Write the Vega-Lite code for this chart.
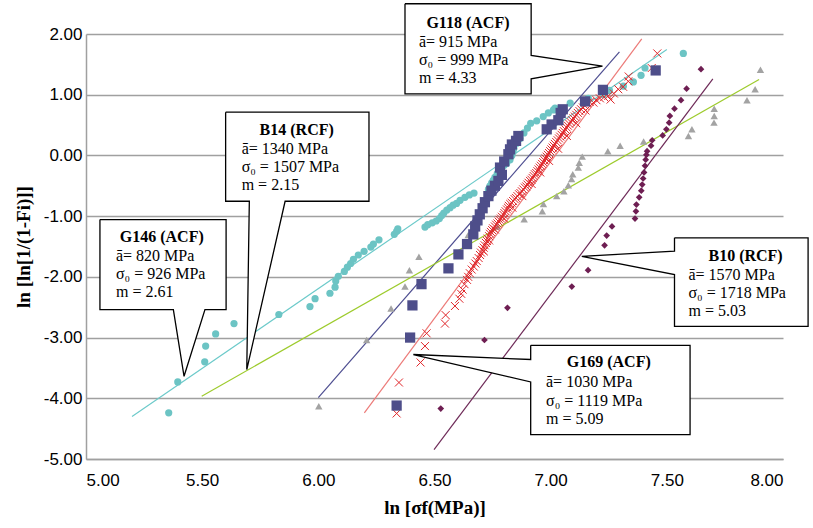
{
"$schema": "https://vega.github.io/schema/vega-lite/v6.json",
"width": 697, "height": 425,
"autosize": "none",
"padding": {"left": 86, "top": 34, "right": 30, "bottom": 69},
"background": "white",
"config": {"view": {"stroke": null}, "font": "Liberation Sans"},
"datasets": {
"g146": [[5.356,-4.24],[5.395,-3.73],[5.511,-3.40],[5.515,-3.14],[5.558,-2.94],[5.637,-2.77],[5.830,-2.62],[5.964,-2.49],[5.986,-2.36],[6.050,-2.27],[6.072,-2.17],[6.075,-2.07],[6.086,-1.99],[6.112,-1.91],[6.125,-1.84],[6.139,-1.78],[6.151,-1.71],[6.172,-1.64],[6.197,-1.58],[6.226,-1.51],[6.237,-1.46],[6.261,-1.39],[6.327,-1.30],[6.337,-1.25],[6.342,-1.21],[6.459,-1.18],[6.471,-1.14],[6.490,-1.11],[6.507,-1.08],[6.521,-1.04],[6.531,-0.99],[6.540,-0.95],[6.553,-0.90],[6.567,-0.86],[6.580,-0.82],[6.595,-0.79],[6.610,-0.74],[6.631,-0.69],[6.650,-0.65],[6.670,-0.62],[6.732,-0.56],[6.739,-0.50],[6.746,-0.45],[6.753,-0.41],[6.760,-0.36],[6.770,-0.30],[6.780,-0.24],[6.789,-0.20],[6.800,-0.16],[6.811,-0.13],[6.825,-0.07],[6.833,0.00],[6.838,0.06],[6.842,0.12],[6.854,0.20],[6.868,0.28],[6.885,0.37],[6.900,0.45],[6.914,0.53],[6.940,0.57],[6.968,0.64],[6.990,0.70],[7.012,0.75],[7.019,0.78],[7.084,0.86],[7.141,0.90],[7.162,0.94],[7.227,1.00],[7.253,1.07],[7.313,1.14],[7.356,1.21],[7.389,1.32],[7.406,1.44],[7.571,1.68]],
"g118": [[6.337,-4.12],[6.395,-3.00],[6.405,-2.47],[6.444,-2.12],[6.560,-1.86],[6.603,-1.63],[6.640,-1.46],[6.667,-1.30],[6.675,-1.17],[6.685,-1.07],[6.695,-0.97],[6.707,-0.87],[6.717,-0.77],[6.732,-0.67],[6.745,-0.58],[6.760,-0.50],[6.775,-0.42],[6.790,-0.32],[6.782,-0.20],[6.800,-0.10],[6.818,0.02],[6.825,0.10],[6.833,0.18],[6.851,0.24],[6.861,0.32],[6.983,0.43],[7.004,0.51],[7.033,0.58],[7.043,0.70],[7.052,0.76],[7.148,0.89],[7.225,1.08],[7.452,1.40]],
"g169": [[6.337,-4.25],[6.347,-3.74],[6.440,-3.41],[6.459,-3.14],[6.466,-2.93],[6.545,-2.77],[6.548,-2.63],[6.588,-2.48],[6.607,-2.36],[6.615,-2.28],[6.621,-2.21],[6.629,-2.12],[6.640,-2.05],[6.645,-2.00],[6.652,-1.94],[6.660,-1.88],[6.669,-1.83],[6.676,-1.78],[6.682,-1.74],[6.690,-1.69],[6.696,-1.64],[6.700,-1.60],[6.706,-1.56],[6.712,-1.52],[6.716,-1.48],[6.721,-1.44],[6.726,-1.41],[6.729,-1.37],[6.735,-1.33],[6.739,-1.29],[6.743,-1.26],[6.748,-1.23],[6.752,-1.20],[6.760,-1.17],[6.765,-1.14],[6.771,-1.12],[6.776,-1.09],[6.780,-1.06],[6.786,-1.04],[6.790,-1.01],[6.797,-0.98],[6.801,-0.95],[6.806,-0.92],[6.812,-0.89],[6.816,-0.86],[6.820,-0.83],[6.826,-0.80],[6.832,-0.78],[6.838,-0.75],[6.845,-0.72],[6.851,-0.70],[6.857,-0.67],[6.864,-0.64],[6.870,-0.62],[6.876,-0.59],[6.882,-0.56],[6.889,-0.53],[6.895,-0.51],[6.900,-0.48],[6.905,-0.45],[6.911,-0.42],[6.917,-0.40],[6.922,-0.37],[6.927,-0.34],[6.932,-0.31],[6.938,-0.29],[6.943,-0.26],[6.948,-0.23],[6.953,-0.20],[6.958,-0.17],[6.963,-0.14],[6.968,-0.11],[6.973,-0.08],[6.978,-0.05],[6.983,-0.02],[6.988,0.01],[6.993,0.04],[6.998,0.07],[7.003,0.10],[7.008,0.13],[7.013,0.16],[7.018,0.19],[7.024,0.22],[7.030,0.25],[7.036,0.28],[7.041,0.31],[7.047,0.34],[7.052,0.37],[7.057,0.40],[7.063,0.43],[7.069,0.46],[7.074,0.49],[7.080,0.52],[7.086,0.55],[7.092,0.58],[7.098,0.61],[7.104,0.64],[7.110,0.67],[7.117,0.70],[7.124,0.73],[7.131,0.76],[7.139,0.79],[7.147,0.82],[7.156,0.86],[7.168,0.88],[7.184,0.87],[7.197,0.91],[7.212,0.94],[7.230,0.96],[7.248,0.98],[7.258,0.92],[7.272,1.02],[7.291,1.09],[7.312,1.13],[7.334,1.22],[7.336,1.30],[7.435,1.44],[7.459,1.68],[6.712,-1.58],[6.735,-1.40],[6.760,-1.22],[6.800,-1.04],[6.835,-0.86],[6.878,-0.67],[6.918,-0.47],[6.955,-0.28],[6.993,-0.09],[7.032,0.11],[7.070,0.32],[7.110,0.53],[7.150,0.74]],
"b14": [[6.002,-4.13],[6.208,-3.04],[6.313,-2.52],[6.373,-2.16],[6.392,-1.89],[6.433,-1.67],[6.645,-1.31],[6.770,-1.17],[6.886,-1.05],[6.964,-0.92],[6.969,-0.80],[7.026,-0.67],[7.057,-0.59],[7.076,-0.49],[7.090,-0.39],[7.095,-0.31],[7.119,-0.20],[7.123,-0.12],[7.136,-0.02],[7.246,0.07],[7.299,0.16],[7.400,0.23],[7.593,0.32],[7.608,0.43],[7.703,0.54],[7.704,0.65],[7.704,0.77],[7.845,0.91],[7.880,1.09],[7.903,1.41]],
"b10": [[6.527,-4.17],[6.715,-3.04],[6.814,-2.51],[7.091,-2.16],[7.161,-1.89],[7.232,-1.48],[7.241,-1.32],[7.264,-1.17],[7.363,-1.04],[7.367,-0.92],[7.369,-0.81],[7.381,-0.69],[7.390,-0.58],[7.394,-0.48],[7.398,-0.38],[7.402,-0.28],[7.406,-0.17],[7.409,-0.07],[7.412,0.01],[7.415,0.07],[7.432,0.16],[7.437,0.25],[7.482,0.33],[7.498,0.43],[7.510,0.54],[7.513,0.65],[7.533,0.77],[7.561,0.91],[7.585,1.10],[7.647,1.42]],
"fits": [
{"s":"G146","x":5.198,"y":-4.30},{"s":"G146","x":7.50,"y":1.745},
{"s":"G118","x":6.00,"y":-3.99},{"s":"G118","x":7.296,"y":1.707},
{"s":"G169","x":6.198,"y":-4.24},{"s":"G169","x":7.392,"y":1.92},
{"s":"B14","x":5.498,"y":-3.967},{"s":"B14","x":7.897,"y":1.25},
{"s":"B10","x":6.498,"y":-4.845},{"s":"B10","x":7.698,"y":1.262}],
"callouts": [
{"b":"G118","o":1,"x":6.373,"y":2.498},{"b":"G118","o":2,"x":6.916,"y":2.498},{"b":"G118","o":3,"x":6.916,"y":1.646},{"b":"G118","o":4,"x":7.223,"y":1.470},{"b":"G118","o":5,"x":6.916,"y":1.262},{"b":"G118","o":6,"x":6.916,"y":1.015},{"b":"G118","o":7,"x":6.373,"y":1.015},{"b":"G118","o":8,"x":6.373,"y":2.498},
{"b":"B14","o":1,"x":5.601,"y":0.712},{"b":"B14","o":2,"x":6.218,"y":0.712},{"b":"B14","o":3,"x":6.218,"y":-0.755},{"b":"B14","o":4,"x":5.857,"y":-0.755},{"b":"B14","o":5,"x":5.692,"y":-3.527},{"b":"B14","o":6,"x":5.703,"y":-0.755},{"b":"B14","o":7,"x":5.601,"y":-0.755},{"b":"B14","o":8,"x":5.601,"y":0.712},
{"b":"G146","o":1,"x":5.060,"y":-1.056},{"b":"G146","o":2,"x":5.603,"y":-1.056},{"b":"G146","o":3,"x":5.603,"y":-2.539},{"b":"G146","o":4,"x":5.512,"y":-2.539},{"b":"G146","o":5,"x":5.422,"y":-3.638},{"b":"G146","o":6,"x":5.376,"y":-2.539},{"b":"G146","o":7,"x":5.060,"y":-2.539},{"b":"G146","o":8,"x":5.060,"y":-1.056},
{"b":"B10","o":1,"x":7.533,"y":-1.357},{"b":"B10","o":2,"x":8.108,"y":-1.357},{"b":"B10","o":3,"x":8.108,"y":-2.814},{"b":"B10","o":4,"x":7.533,"y":-2.814},{"b":"B10","o":5,"x":7.533,"y":-1.962},{"b":"B10","o":6,"x":7.134,"y":-1.661},{"b":"B10","o":7,"x":7.533,"y":-1.578},{"b":"B10","o":8,"x":7.533,"y":-1.357},
{"b":"G169","o":1,"x":6.914,"y":-3.127},{"b":"G169","o":2,"x":7.600,"y":-3.127},{"b":"G169","o":3,"x":7.600,"y":-4.598},{"b":"G169","o":4,"x":6.914,"y":-4.598},{"b":"G169","o":5,"x":6.914,"y":-3.73},{"b":"G169","o":6,"x":6.409,"y":-3.279},{"b":"G169","o":7,"x":6.914,"y":-3.361},{"b":"G169","o":8,"x":6.914,"y":-3.127}],
"titles": [{"t":"G118 (ACF)","x":6.644,"y":2.185},{"t":"B14 (RCF)","x":5.907,"y":0.427},{"t":"G146 (ACF)","x":5.326,"y":-1.341},{"t":"B10 (RCF)","x":7.839,"y":-1.661},{"t":"G169 (ACF)","x":7.250,"y":-3.407}],
"body": [
{"t":"ā= 915 MPa","x":6.433,"y":1.865},{"t":"σ₀ = 999 MPa","x":6.433,"y":1.580},{"t":"m = 4.33","x":6.433,"y":1.278},
{"t":"ā= 1340 MPa","x":5.670,"y":0.109},{"t":"σ₀ = 1507 MPa","x":5.670,"y":-0.188},{"t":"m = 2.15","x":5.670,"y":-0.479},
{"t":"ā= 820 MPa","x":5.129,"y":-1.649},{"t":"σ₀ = 926 MPa","x":5.129,"y":-1.946},{"t":"m = 2.61","x":5.129,"y":-2.254},
{"t":"ā= 1570 MPa","x":7.593,"y":-1.962},{"t":"σ₀ = 1718 MPa","x":7.593,"y":-2.264},{"t":"m = 5.03","x":7.593,"y":-2.567},
{"t":"ā= 1030 MPa","x":6.980,"y":-3.736},{"t":"σ₀ = 1119 MPa","x":6.980,"y":-4.038},{"t":"m = 5.09","x":6.980,"y":-4.334}]
},
"layer": [
{"data": {"name": "fits"},
 "mark": {"type": "line", "strokeWidth": 1.2},
 "encoding": {
  "x": {"field": "x", "type": "quantitative", "scale": {"domain": [5, 8], "nice": false, "zero": false},
        "axis": {"title": "ln [σf(MPa)]", "values": [5, 5.5, 6, 6.5, 7, 7.5, 8], "labelExpr": "replace(format(datum.value, '.2f'), '\u2212', '-')", "grid": false, "ticks": false,
                 "domainColor": "#a0a0a0", "domainWidth": 1.5, "labelFont": "Liberation Sans", "labelFontSize": 17, "labelColor": "#000", "labelPadding": 13,
                 "titleFont": "Liberation Serif", "titleFontSize": 19, "titleFontWeight": "bold", "titleColor": "#000", "titlePadding": 10}},
  "y": {"field": "y", "type": "quantitative", "scale": {"domain": [-5, 2], "nice": false, "zero": false},
        "axis": {"title": "ln [ln[1/(1-Fi)]]", "values": [-5, -4, -3, -2, -1, 0, 1, 2], "labelExpr": "replace(format(datum.value, '.2f'), '\u2212', '-')", "grid": true, "gridColor": "#a0a0a0", "gridWidth": 1.4, "ticks": false,
                 "domainColor": "#a0a0a0", "domainWidth": 1.5, "labelFont": "Liberation Sans", "labelFontSize": 17, "labelColor": "#000", "labelPadding": 4,
                 "titleFont": "Liberation Serif", "titleFontSize": 19, "titleFontWeight": "bold", "titleColor": "#000", "titlePadding": 10}},
  "color": {"field": "s", "type": "nominal", "legend": null,
            "scale": {"domain": ["G146", "G118", "G169", "B14", "B10"], "range": ["#6ccaca", "#4d4d90", "#ec7a78", "#9dcb2c", "#6e2a58"]}}
 }},
{"data": {"name": "g146"}, "transform": [{"calculate": "datum[0]", "as": "x"}, {"calculate": "datum[1]", "as": "y"}],
 "mark": {"type": "point", "shape": "circle", "filled": true, "size": 52, "color": "#6cc4c4", "opacity": 1},
 "encoding": {"x": {"field": "x", "type": "quantitative"}, "y": {"field": "y", "type": "quantitative"}}},
{"data": {"name": "b14"}, "transform": [{"calculate": "datum[0]", "as": "x"}, {"calculate": "datum[1]", "as": "y"}],
 "mark": {"type": "point", "shape": "triangle-up", "filled": true, "size": 55, "color": "#a3a3a3", "opacity": 1},
 "encoding": {"x": {"field": "x", "type": "quantitative"}, "y": {"field": "y", "type": "quantitative"}}},
{"data": {"name": "b10"}, "transform": [{"calculate": "datum[0]", "as": "x"}, {"calculate": "datum[1]", "as": "y"}],
 "mark": {"type": "point", "shape": "diamond", "filled": true, "size": 45, "color": "#6e1e52", "opacity": 1},
 "encoding": {"x": {"field": "x", "type": "quantitative"}, "y": {"field": "y", "type": "quantitative"}}},
{"data": {"name": "g169"}, "transform": [{"calculate": "datum[0]", "as": "x"}, {"calculate": "datum[1]", "as": "y"}],
 "mark": {"type": "point", "shape": "M-1,-1L1,1M-1,1L1,-1", "filled": false, "size": 64, "stroke": "#e0262a", "strokeWidth": 1.0, "opacity": 1},
 "encoding": {"x": {"field": "x", "type": "quantitative"}, "y": {"field": "y", "type": "quantitative"}}},
{"data": {"name": "g118"}, "transform": [{"calculate": "datum[0]", "as": "x"}, {"calculate": "datum[1]", "as": "y"}],
 "mark": {"type": "point", "shape": "square", "filled": true, "size": 105, "color": "#4e4e8a", "opacity": 1},
 "encoding": {"x": {"field": "x", "type": "quantitative"}, "y": {"field": "y", "type": "quantitative"}}},
{"data": {"name": "callouts"},
 "mark": {"type": "line", "fill": "white", "stroke": "black", "strokeWidth": 1.3, "strokeJoin": "miter"},
 "encoding": {"x": {"field": "x", "type": "quantitative"}, "y": {"field": "y", "type": "quantitative"},
              "detail": {"field": "b", "type": "nominal"}, "order": {"field": "o", "type": "quantitative"}}},
{"data": {"name": "titles"},
 "mark": {"type": "text", "font": "Liberation Serif", "fontSize": 16, "fontWeight": "bold", "align": "center", "baseline": "middle", "color": "black"},
 "encoding": {"x": {"field": "x", "type": "quantitative"}, "y": {"field": "y", "type": "quantitative"}, "text": {"field": "t"}}},
{"data": {"name": "body"},
 "mark": {"type": "text", "font": "Liberation Serif", "fontSize": 16, "align": "left", "baseline": "middle", "color": "black"},
 "encoding": {"x": {"field": "x", "type": "quantitative"}, "y": {"field": "y", "type": "quantitative"}, "text": {"field": "t"}}}
]
}
